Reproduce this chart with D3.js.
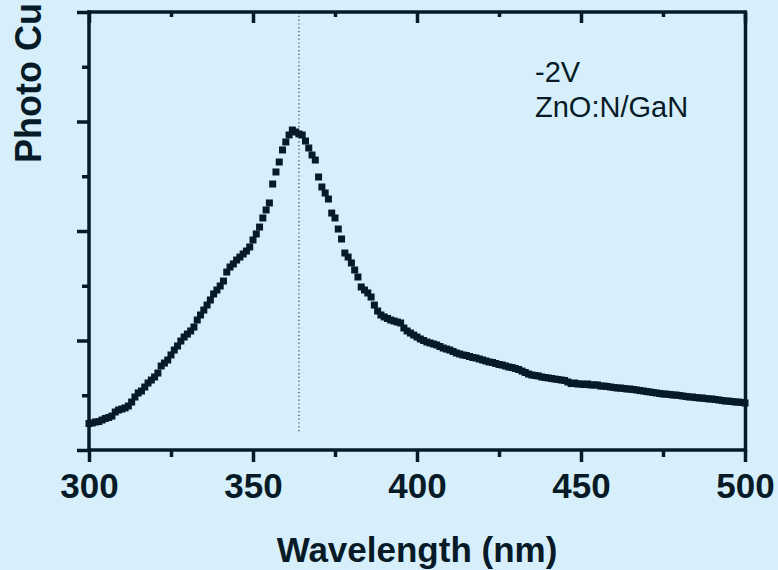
<!DOCTYPE html>
<html><head><meta charset="utf-8">
<script src="https://cdn.jsdelivr.net/npm/d3@7/dist/d3.min.js"></script>
<style>html,body{margin:0;padding:0;background:#d7effb;}svg{display:block;}</style>
</head><body>
<svg id="c" width="778" height="570"></svg>
<script>
// Wavelength (nm), 1 nm steps
const wavelengths = d3.range(300, 501, 1);
// Photo current (a.u.)
const photoCurrent = [
2.42,2.47,2.56,2.60,2.74,2.88,2.97,3.10,3.47,3.65,
3.74,3.84,4.02,4.38,4.84,5.21,5.39,5.75,6.12,6.39,
6.67,7.03,7.67,7.94,8.22,8.68,9.13,9.50,9.95,10.32,
10.59,10.87,11.23,11.87,12.33,12.78,13.24,13.70,14.25,14.61,
14.98,15.43,16.25,16.71,16.99,17.35,17.62,17.90,18.17,18.54,
19.18,19.73,20.36,21.19,21.92,22.56,24.29,25.39,26.30,27.40,
28.13,28.77,29.22,29.04,28.86,28.77,28.22,27.58,26.94,26.48,
24.93,24.02,23.47,22.92,21.64,21.19,20.18,19.27,17.99,17.62,
17.08,16.44,15.80,14.89,14.61,14.34,13.97,13.24,12.69,12.33,
12.15,12.01,11.87,11.78,11.69,11.60,11.14,10.87,10.68,10.50,
10.32,10.14,10.00,9.86,9.77,9.68,9.59,9.45,9.31,9.22,
9.13,9.00,8.86,8.77,8.68,8.63,8.54,8.45,8.40,8.31,
8.22,8.13,8.04,7.99,7.90,7.81,7.76,7.67,7.58,7.53,
7.44,7.35,7.21,7.08,6.94,6.85,6.80,6.76,6.67,6.62,
6.58,6.53,6.48,6.44,6.39,6.35,6.21,6.07,6.12,6.03,
6.03,5.98,6.03,5.94,5.94,5.94,5.84,5.84,5.80,5.75,
5.71,5.66,5.66,5.62,5.57,5.57,5.52,5.48,5.43,5.39,
5.34,5.30,5.25,5.21,5.16,5.11,5.11,5.07,5.02,5.02,
4.98,4.93,4.89,4.84,4.84,4.79,4.75,4.75,4.70,4.66,
4.66,4.61,4.57,4.52,4.47,4.47,4.43,4.38,4.38,4.34,
4.29
];
const xMajorTicks = [300, 350, 400, 450, 500];
const xMinorTicks = [325, 375, 425, 475];
const yMajorTicks = [0, 10, 20, 30, 40];
const yMinorTicks = [5, 15, 25, 35];
const peakWavelength = 364;
const xTitle = "Wavelength (nm)";
const yTitle = "Photo Cu";
const notes = ["-2V", "ZnO:N/GaN"];

const ink = "#061b27";
const svg = d3.select("#c");
const L = 89, R = 745, T = 12, B = 450;
const x = d3.scaleLinear().domain([300, 500]).range([L, R]);
const y = d3.scaleLinear().domain([0, 40]).range([B, T]);
const font = "'Liberation Sans', Arial, Helvetica, sans-serif";
const sw = 3.5;

// dotted peak marker
svg.append("line")
  .attr("x1", x(peakWavelength)).attr("x2", x(peakWavelength))
  .attr("y1", T).attr("y2", 432)
  .attr("stroke", "#334455").attr("stroke-width", 1.2)
  .attr("stroke-dasharray", "1.2,2.6");

// data squares
const sq = 7;
svg.append("g").selectAll("rect").data(wavelengths.map((w, i) => [w, photoCurrent[i]]))
  .join("rect")
  .attr("x", d => x(d[0]) - sq / 2)
  .attr("y", d => y(d[1]) - sq / 2)
  .attr("width", sq).attr("height", sq)
  .attr("fill", ink);

// bottom axis (ticks outward)
const gx = svg.append("g").attr("transform", `translate(0,${B})`)
  .call(d3.axisBottom(x).tickValues(xMajorTicks).tickSize(12).tickPadding(11).tickFormat(d3.format("d")));
gx.append("g").call(d3.axisBottom(x).tickValues(xMinorTicks).tickSize(7).tickFormat(""));
// left axis (ticks outward, no labels)
const gy = svg.append("g").attr("transform", `translate(${L},0)`)
  .call(d3.axisLeft(y).tickValues(yMajorTicks).tickSize(12).tickFormat(""));
gy.append("g").call(d3.axisLeft(y).tickValues(yMinorTicks).tickSize(7).tickFormat(""));
// top axis (ticks inward)
const gt = svg.append("g").attr("transform", `translate(0,${T})`)
  .call(d3.axisTop(x).tickValues(xMajorTicks).tickSize(-11).tickFormat(""));
gt.append("g").call(d3.axisTop(x).tickValues(xMinorTicks).tickSize(-5).tickFormat(""));
// right axis (no ticks)
svg.append("g").attr("transform", `translate(${R},0)`)
  .call(d3.axisRight(y).tickValues([]).tickSizeOuter(0));

svg.selectAll(".domain").attr("stroke", ink).attr("stroke-width", sw).attr("stroke-linecap", "square");
svg.selectAll(".tick line").attr("stroke", ink).attr("stroke-width", sw);
gx.selectAll(".tick text").attr("fill", ink).attr("font-family", font)
  .attr("font-size", 35).attr("font-weight", "bold");
// hide outer ticks drawn by domain path
svg.selectAll(".domain").attr("d", function() {
  return d3.select(this).attr("d");
});
gx.select(".domain").attr("d", `M${L},0H${R}`);
gy.select(".domain").attr("d", `M0,${T}V${B}`);
gt.select(".domain").attr("d", `M${L},0H${R}`);
gx.selectAll("g g .domain").remove();
gy.selectAll("g g .domain").remove();
gt.selectAll("g g .domain").remove();

// titles
svg.append("text").attr("x", (L + R) / 2).attr("y", 562)
  .attr("text-anchor", "middle").attr("font-family", font)
  .attr("font-size", 35).attr("font-weight", "bold").attr("fill", ink).text(xTitle);
svg.append("text").attr("transform", "translate(41,163) rotate(-90)")
  .attr("text-anchor", "start").attr("font-family", font)
  .attr("font-size", 36).attr("font-weight", "bold").attr("fill", ink).text(yTitle);

// annotations
svg.append("g").selectAll("text").data(notes).join("text")
  .attr("x", 535).attr("y", (d, i) => 82 + i * 35)
  .attr("font-family", font).attr("font-size", 29).attr("fill", ink).text(d => d);
</script>
</body></html>
